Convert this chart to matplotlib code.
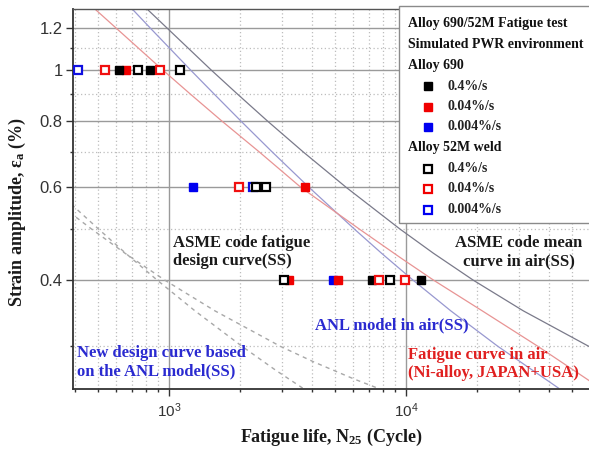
import matplotlib
matplotlib.use('Agg')
import matplotlib.pyplot as plt
from matplotlib.lines import Line2D
from matplotlib.patches import Rectangle
from matplotlib.ticker import FixedLocator, NullFormatter, LogLocator

plt.rcParams['font.family'] = ['Liberation Sans', 'DejaVu Sans']
plt.rcParams['mathtext.fontset'] = 'custom'
plt.rcParams['mathtext.rm'] = 'Liberation Serif:bold'
plt.rcParams['mathtext.it'] = 'Liberation Serif:bold:italic'
plt.rcParams['mathtext.bf'] = 'Liberation Serif:bold'
plt.rcParams['mathtext.sf'] = 'Liberation Sans'

# ---------------- data ----------------
# Alloy 690 (filled squares): fatigue life N25 and strain amplitude (%)
a690_fast_N = [615, 831, 7207, 11570]
a690_fast_e = [1.0, 1.0, 0.4, 0.4]
a690_mid_N = [659, 3750, 3224, 5150]
a690_mid_e = [1.0, 0.6, 0.4, 0.4]
a690_slow_N = [1266, 4906]
a690_slow_e = [0.6, 0.4]
# Alloy 52M weld (open squares)
w52_fast_N = [740, 1113, 2328, 2565, 3066, 8585]
w52_fast_e = [1.0, 1.0, 0.6, 0.6, 0.4, 0.4]
w52_mid_N = [537, 916, 1984, 7671, 9874]
w52_mid_e = [1.0, 1.0, 0.6, 0.4, 0.4]
w52_slow_N = [413, 2262]
w52_slow_e = [1.0, 0.6]

# ASME code mean curve in air (SS)
asme_mean_N = [748, 816, 1509, 1950, 2612, 3685, 5590, 9440, 13060, 19260, 31300, 59000, 69200]
asme_mean_e = [1.35, 1.3, 1.0, 0.9, 0.8, 0.7, 0.6, 0.5, 0.45, 0.4, 0.35, 0.3, 0.29]
# ANL model in air (SS)
anl_N = [652, 706, 836, 1235, 1555, 2017, 2726, 3898, 6060, 7890, 10730, 15470, 24400, 44000]
anl_e = [1.35, 1.3, 1.2, 1.0, 0.9, 0.8, 0.7, 0.6, 0.5, 0.45, 0.4, 0.35, 0.3, 0.25]
# Fatigue curve in air (Ni-alloy, JAPAN+USA)
ni_N = [449, 492, 943, 1234, 1677, 2405, 3600, 6360, 9434, 13100, 21000, 36000, 58000, 66000]
ni_e = [1.35, 1.3, 1.0, 0.9, 0.8, 0.7, 0.6, 0.5, 0.442, 0.4, 0.35, 0.3, 0.26, 0.25]
# ASME code fatigue design curve (SS)
asme_des_N = [357, 472, 653, 963, 1565, 2950, 4100, 6050, 7590]
asme_des_e = [0.55, 0.5, 0.45, 0.4, 0.35, 0.3, 0.28, 0.26, 0.25]
# New design curve based on the ANL model (SS)
anl_des_N = [325, 400, 505, 657, 894, 1289, 2033, 2830, 3667]
anl_des_e = [0.6, 0.55, 0.5, 0.45, 0.4, 0.35, 0.3, 0.27, 0.25]

y_major = [0.4, 0.6, 0.8, 1.0, 1.2]
y_major_labels = ['0.4', '0.6', '0.8', '1', '1.2']
y_minor = [0.3, 0.5, 0.7, 0.9, 1.1]
x_major = [1e3, 1e4]
x_major_labels = [r'$\mathsf{10^{3}}$', r'$\mathsf{10^{4}}$']

legend_headers = ['Alloy 690/52M Fatigue test', 'Simulated PWR environment']
rate_labels = ['0.4%/s', '0.04%/s', '0.004%/s']

# ---------------- figure ----------------
W, H = 589, 453
fig = plt.figure(figsize=(W / 100, H / 100), dpi=100)


def fx(x):
    return x / W


def fy(y):
    return 1 - y / H


ax = fig.add_axes([fx(73), fy(389), (589 - 73) / W, (389 - 9) / H])
ax.set_xscale('log')
ax.set_yscale('log')
ax.set_xlim(394, 59200)
ax.set_ylim(0.249, 1.305)

serif = dict(family='Liberation Serif', weight='bold')

# curves
ax.plot(asme_mean_N, asme_mean_e, color='#7a7a8a', lw=0.9, zorder=2)
ax.plot(anl_N, anl_e, color='#9898d0', lw=0.9, zorder=2)
ax.plot(ni_N, ni_e, color='#e89494', lw=0.9, zorder=2)
ax.plot(asme_des_N, asme_des_e, color='#a8a8a8', lw=1.0, ls=(0, (3, 3)), zorder=2)
ax.plot(anl_des_N, anl_des_e, color='#a8a8a8', lw=1.0, ls=(0, (3, 3)), zorder=2)

# data points
ms = 5.4
ax.plot(a690_slow_N, a690_slow_e, 's', color='#0000f0', ms=ms, mec='#0000f0', zorder=4)
ax.plot(a690_mid_N, a690_mid_e, 's', color='#f00000', ms=ms, mec='#f00000', zorder=4)
ax.plot(a690_fast_N, a690_fast_e, 's', color='black', ms=ms, mec='black', zorder=4)
ax.plot(w52_slow_N, w52_slow_e, 's', mfc='white', mec='#1010e0', mew=1.6, ms=ms - 0.3, zorder=5)
ax.plot(w52_mid_N, w52_mid_e, 's', mfc='white', mec='#f01010', mew=1.6, ms=ms - 0.3, zorder=5)
ax.plot(w52_fast_N, w52_fast_e, 's', mfc='white', mec='black', mew=1.6, ms=ms - 0.3, zorder=5)

# ticks & grid
ax.yaxis.set_major_locator(FixedLocator(y_major))
ax.set_yticklabels(y_major_labels)
ax.yaxis.set_minor_locator(FixedLocator(y_minor))
ax.yaxis.set_minor_formatter(NullFormatter())
ax.set_xticks(x_major)
ax.set_xticklabels(x_major_labels)
ax.xaxis.set_minor_locator(LogLocator(base=10, subs=[2, 3, 4, 5, 6, 7, 8, 9]))
ax.xaxis.set_minor_formatter(NullFormatter())

ax.tick_params(axis='both', which='major', direction='out', length=5, width=1,
               color='#333333', labelcolor='#333333')
ax.tick_params(axis='both', which='minor', direction='out', length=2.5, width=1,
               color='#333333')
ax.tick_params(axis='y', which='major', labelsize=12, pad=2.5)
ax.tick_params(axis='x', which='major', labelsize=11, pad=4)

ax.set_axisbelow(True)
ax.grid(True, which='major', color='#9a9a9a', lw=1.0, ls='-')
ax.grid(True, which='minor', color='#bdbdbd', lw=0.9, ls=(0, (1, 2)))

for s in ['left', 'bottom']:
    ax.spines[s].set_color('#333333')
    ax.spines[s].set_linewidth(1.3)
ax.spines['top'].set_color('#555555')
ax.spines['top'].set_linewidth(1.0)
ax.spines['right'].set_visible(False)

# annotations
fig.text(fx(173), fy(252), 'ASME code fatigue\ndesign curve(SS)', color='#1a1a1a',
         fontsize=12, ha='left', va='center', linespacing=1.2, **serif)
fig.text(fx(519), fy(252), 'ASME code mean\ncurve in air(SS)', color='#1a1a1a',
         fontsize=12, ha='center', va='center', multialignment='center', linespacing=1.2, **serif)
fig.text(fx(315), fy(325), 'ANL model in air(SS)', color='#2a2ad0',
         fontsize=12, ha='left', va='center', **serif)
fig.text(fx(408), fy(364), 'Fatigue curve in air\n(Ni-alloy, JAPAN+USA)', color='#e02020',
         fontsize=12, ha='left', va='center', linespacing=1.15, **serif)
fig.text(fx(77), fy(362), 'New design curve based\non the ANL model(SS)', color='#2a2ad0',
         fontsize=12, ha='left', va='center', linespacing=1.15, **serif)

# axis labels
fig.text(fx(331), fy(437), r'Fatigue life, N$_{\mathrm{25}}$ (Cycle)', color='#1a1a1a',
         fontsize=13, ha='center', va='center', **serif)
fig.text(fx(17), fy(212), r'Strain amplitude, ε$_{\mathrm{a}}$ (%)', color='#1a1a1a',
         fontsize=13, ha='center', va='center', rotation=90, **serif)

# legend box (manual)
fig.add_artist(Rectangle((fx(399), fy(223)), (600 - 399) / W, (223 - 6) / H,
                         transform=fig.transFigure, facecolor='white',
                         edgecolor='#8a8a8a', lw=1.0, zorder=10))
ly = [23, 44, 66, 86, 107, 127, 148, 169, 189, 210]
fig.text(fx(408), fy(ly[0]), legend_headers[0], fontsize=10, ha='left', va='center',
         color='#111111', zorder=11, **serif)
fig.text(fx(408), fy(ly[1]), legend_headers[1], fontsize=10, ha='left', va='center',
         color='#111111', zorder=11, **serif)
fig.text(fx(408), fy(ly[2]), 'Alloy 690', fontsize=10, ha='left', va='center',
         color='#111111', zorder=11, **serif)
fig.text(fx(408), fy(ly[6]), 'Alloy 52M weld', fontsize=10, ha='left', va='center',
         color='#111111', zorder=11, **serif)
cols = ['black', '#f00000', '#0000f0']
for i, (c, lab) in enumerate(zip(cols, rate_labels)):
    fig.add_artist(Line2D([fx(428)], [fy(ly[3 + i])], transform=fig.transFigure, marker='s',
                          color=c, mec=c, ms=ms, ls='none', zorder=12))
    fig.text(fx(448), fy(ly[3 + i]), lab, fontsize=10, ha='left', va='center',
             color='#222222', zorder=11, **serif)
    fig.add_artist(Line2D([fx(428)], [fy(ly[7 + i])], transform=fig.transFigure, marker='s',
                          mfc='white', mec=c, mew=1.6, ms=ms - 0.3, ls='none', zorder=12))
    fig.text(fx(448), fy(ly[7 + i]), lab, fontsize=10, ha='left', va='center',
             color='#222222', zorder=11, **serif)

fig.savefig('out.png', dpi=100)
